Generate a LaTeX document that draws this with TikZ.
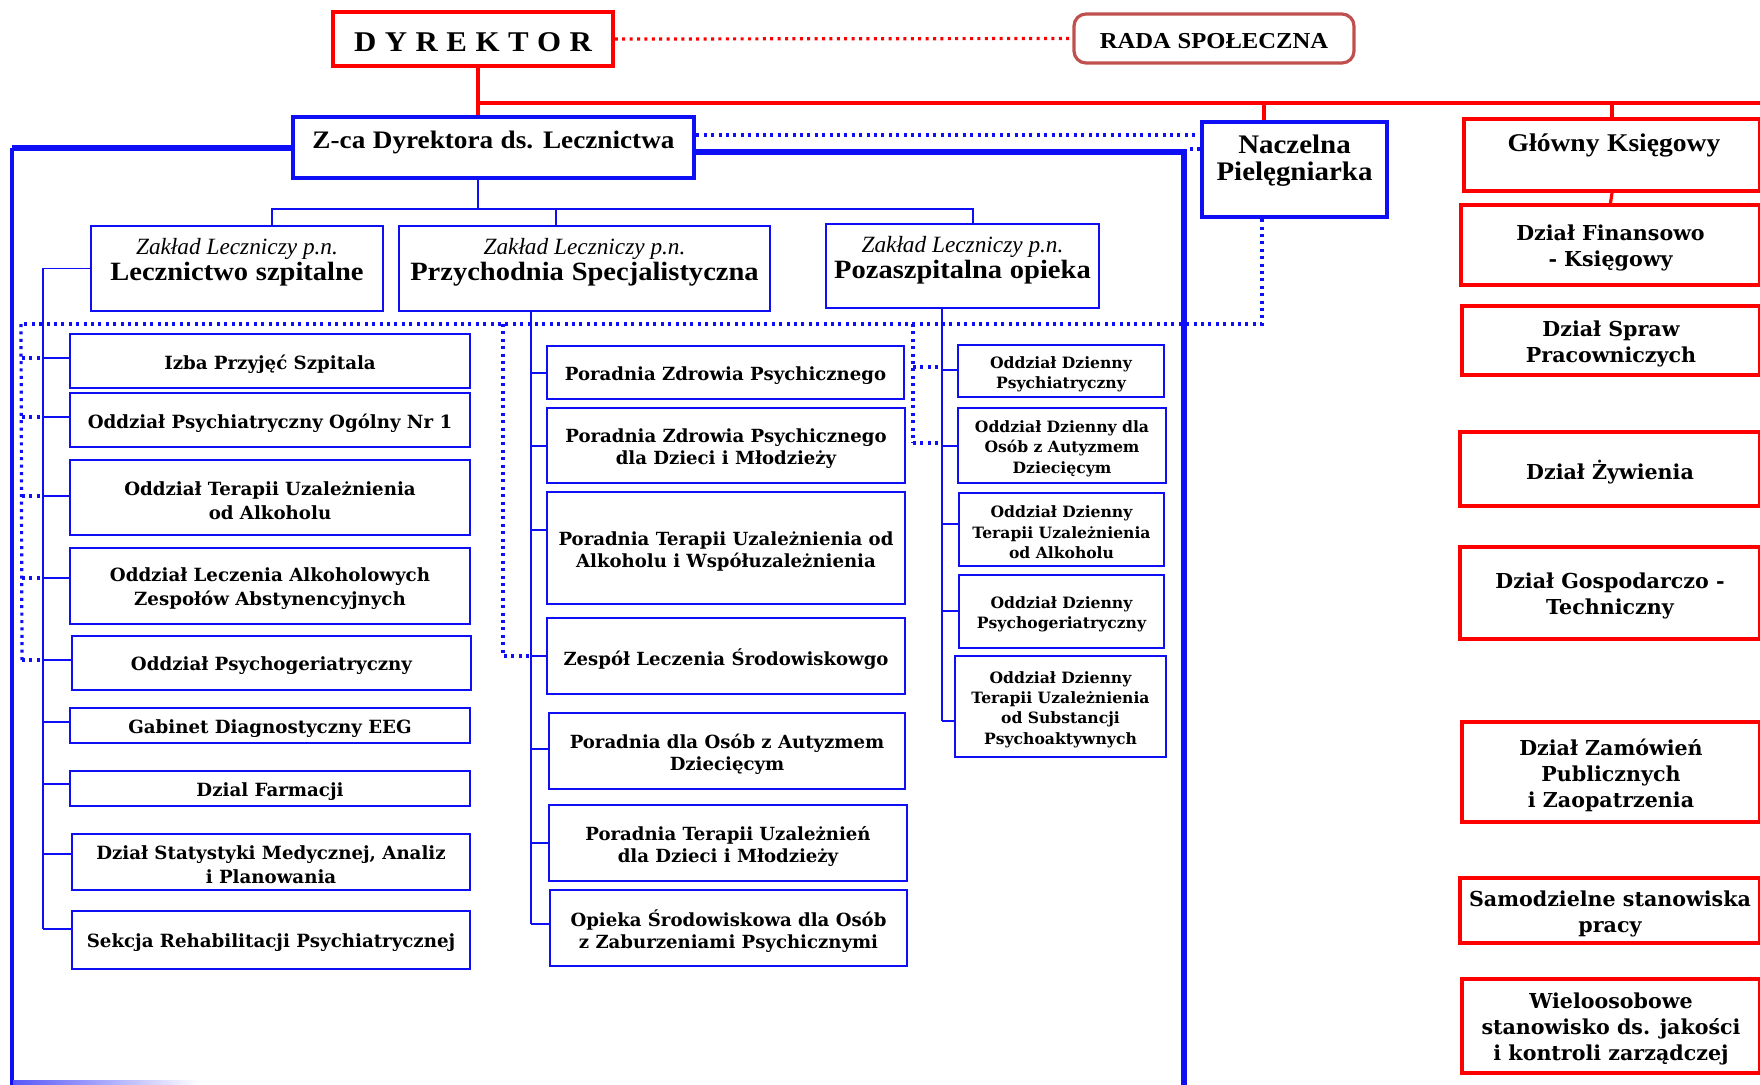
\documentclass[tikz,border=0pt]{standalone}
\usepackage{fontspec}
\setmainfont{DejaVu Serif}
\newfontfamily\hdf[FakeStretch=1.08,WordSpace=1.8]{Liberation Serif}
\newfontfamily\dyrf[FakeStretch=1.08,WordSpace=1.1]{Liberation Serif}
\newfontfamily\itf{Liberation Serif}
\definecolor{bl}{RGB}{15,15,245}
\definecolor{rd}{RGB}{255,0,0}
\definecolor{radac}{RGB}{192,80,77}
% box: name, x1, y1, x2, y2, style, text (text node named <name>t)
\newcommand\bx[7]{%
  \pgfmathsetmacro\bxw{((#4)-(#2))*0.5}%
  \pgfmathsetmacro\bxh{((#5)-(#3))*0.5}%
  \pgfmathsetmacro\bxx{((#2)+(#4))/2}%
  \pgfmathsetmacro\bxy{((#3)+(#5))/2}%
  \node[#6, minimum width=\bxw pt, minimum height=\bxh pt, anchor=center] (#1) at (\bxx,\bxy) {};
  \node[#6, draw=none, anchor=center] (#1t) at ([yshift=-1.5pt]#1.center) {#7};}
\begin{document}
\begin{tikzpicture}[x=0.5pt,y=-0.5pt,
  bb/.style={draw=bl, line width=1pt, inner sep=0pt, align=center, font=\bfseries\fontsize{9.1}{12}\selectfont},
  mb/.style={bb, font=\bfseries\fontsize{9.05}{11}\selectfont},
  ob/.style={bb, font=\bfseries\fontsize{7.8}{10.2}\selectfont},
  zb/.style={draw=bl, line width=1pt, inner sep=0pt},
  rb/.style={draw=rd, line width=2pt, inner sep=0pt, align=center, font=\bfseries\fontsize{10.3}{13}\selectfont},
  conn/.style={draw=bl, line width=0.8pt},
  dotl/.style={draw=bl, line width=1.6pt, dash pattern=on 1.5pt off 2.2pt},
  rdot/.style={dotl, draw=rd},
  rline/.style={draw=rd, line width=1.6pt},
  frame/.style={draw=bl, line width=2.6pt},
  hd/.style={font=\hdf\bfseries\fontsize{13.2}{13}\selectfont, align=center, inner sep=0pt},
]
\useasboundingbox (0,0) rectangle (1760,1084);
\clip (0,0) rectangle (1760,1084);

% ---- top
\bx{dyr}{333}{12}{613}{66}{draw=rd, line width=1.8pt, inner sep=0pt, font=\dyrf\bfseries\fontsize{14.3}{16}\selectfont}{D Y R E K T O R}
\bx{rada}{1074}{14}{1354}{63}{draw=radac, line width=1.6pt, rounded corners=6pt, inner sep=0pt, font=\hdf\bfseries\fontsize{11.4}{13}\selectfont}{RADA SPOŁECZNA}

\bx{zca}{293}{117}{694}{178}{draw=bl, line width=2.3pt, inner sep=0pt}{}
\node[hd, font=\hdf\bfseries\fontsize{12.6}{14}\selectfont] (zcat2) at (493.5,142) {Z-ca Dyrektora ds. Lecznictwa};

\bx{nacz}{1202}{122}{1387}{217}{draw=bl, line width=2.2pt, inner sep=0pt}{}
\node[hd, font=\hdf\bfseries\fontsize{13.4}{13.5}\selectfont] (naczt2) at (1294.5,161) {Naczelna\\Pielęgniarka};

\bx{glow}{1464}{119}{1760}{191}{rb}{}
\node[hd, font=\hdf\bfseries\fontsize{12.75}{13}\selectfont] (glowt2) at (1614,145) {Główny Księgowy};

% ---- second level blue
\bx{lecz}{91}{226}{383}{311}{zb}{}
\node[hd] (leczt2) at (237,262) {{\itf\mdseries\itshape\fontsize{11.65}{13}\selectfont Zakład Leczniczy p.n.}\\Lecznictwo szpitalne};
\bx{przy}{399}{226}{770}{311}{zb}{}
\node[hd] (przyt2) at (584.5,262) {{\itf\mdseries\itshape\fontsize{11.65}{13}\selectfont Zakład Leczniczy p.n.}\\Przychodnia Specjalistyczna};
\bx{poza}{826}{224}{1099}{308}{zb}{}
\node[hd] (pozat2) at (962.5,260) {{\itf\mdseries\itshape\fontsize{11.65}{13}\selectfont Zakład Leczniczy p.n.}\\Pozaszpitalna opieka};

% ---- red right column
\bx{fin}{1461}{205}{1760}{285}{rb}{Dział Finansowo\\- Księgowy}
\bx{spraw}{1462}{306}{1760}{375}{rb}{Dział Spraw\\Pracowniczych}
\bx{zyw}{1460}{432}{1760}{506}{rb}{Dział Żywienia}
\bx{gosp}{1460}{547}{1760}{639}{rb}{Dział Gospodarczo -\\Techniczny}
\bx{zam}{1462}{722}{1760}{822}{rb}{Dział Zamówień\\Publicznych\\i Zaopatrzenia}
\bx{samo}{1460}{878}{1760}{943}{rb}{Samodzielne stanowiska\\pracy}
\bx{wiel}{1462}{979}{1760}{1073}{rb}{Wieloosobowe\\stanowisko ds. jakości\\i kontroli zarządczej}

% ---- left column
\bx{izba}{70}{334}{470}{388}{bb}{Izba Przyjęć Szpitala}
\bx{pog}{70}{393}{470}{447}{bb}{Oddział Psychiatryczny Ogólny Nr 1}
\bx{otu}{70}{460}{470}{535}{bb}{Oddział Terapii Uzależnienia\\od Alkoholu}
\bx{ola}{70}{548}{470}{624}{bb}{Oddział Leczenia Alkoholowych\\Zespołów Abstynencyjnych}
\bx{opg}{72}{636}{471}{690}{bb}{Oddział Psychogeriatryczny}
\bx{eeg}{70}{708}{470}{743}{bb}{Gabinet Diagnostyczny EEG}
\bx{farm}{70}{771}{470}{806}{bb}{Dzial Farmacji}
\bx{stat}{72}{834}{470}{890}{bb}{Dział Statystyki Medycznej, Analiz\\i Planowania}
\bx{sekc}{72}{911}{470}{969}{bb}{Sekcja Rehabilitacji Psychiatrycznej}

% ---- middle column
\bx{pzp}{547}{346}{904}{399}{mb}{Poradnia Zdrowia Psychicznego}
\bx{pzpd}{547}{408}{905}{483}{mb}{Poradnia Zdrowia Psychicznego\\dla Dzieci i Młodzieży}
\bx{ptu}{547}{492}{905}{604}{mb}{Poradnia Terapii Uzależnienia od\\Alkoholu i Współuzależnienia}
\bx{zls}{547}{618}{905}{694}{mb}{Zespół Leczenia Środowiskowgo}
\bx{pau}{549}{713}{905}{789}{mb}{Poradnia dla Osób z Autyzmem\\Dziecięcym}
\bx{ptud}{549}{805}{907}{881}{mb}{Poradnia Terapii Uzależnień\\dla Dzieci i Młodzieży}
\bx{ops}{550}{890}{907}{966}{mb}{Opieka Środowiskowa dla Osób\\z Zaburzeniami Psychicznymi}

% ---- right blue column
\bx{odp}{958}{345}{1164}{397}{ob}{Oddział Dzienny\\Psychiatryczny}
\bx{oda}{958}{408}{1166}{483}{ob}{Oddział Dzienny dla\\Osób z Autyzmem\\Dziecięcym}
\bx{odt}{959}{493}{1164}{566}{ob}{Oddział Dzienny\\Terapii Uzależnienia\\od Alkoholu}
\bx{odg}{959}{575}{1164}{648}{ob}{Oddział Dzienny\\Psychogeriatryczny}
\bx{ods}{955}{656}{1166}{757}{ob}{Oddział Dzienny\\Terapii Uzależnienia\\od Substancji\\Psychoaktywnych}

% ---- red connectors
\coordinate (rbusE) at (1770,103);
\draw[rline] (478,0 |- dyr.south) -- (478,0 |- zca.north);
\draw[rline] (478,103) -- (rbusE);
\draw[rline] (1264,103) -- (1264,0 |- nacz.north);
\draw[rline] (glow.north |- rbusE) -- (glow.north);
\draw[rline] (glow.south) -- (fin.north);
\draw[rdot] (dyr.east) -- (rada.west);

% ---- blue frame
\coordinate (fl) at (12,148); \coordinate (flb) at (12,1090);
\draw[frame] (zca.west |- fl) -- (fl);
\draw[draw=bl, line width=1.6pt] (fl) -- (flb);
\coordinate (fr) at (1184,152); \coordinate (frb) at (1184,1090);
\draw[frame] (zca.east |- fr) -- (fr) -- (frb);
\shade[left color=bl!70, right color=white] (13,1080) rectangle (200,1084);

% ---- dotted links
\draw[dotl] (zca.east |- 0,135) -- (nacz.west |- 0,135);
\draw[dotl] (1190,149) -- (nacz.west |- 0,149);
\coordinate (dh) at (21,324);
\draw[dotl] (1262,0 |- nacz.south) -- (1262,324) -- (dh);
\draw[dotl] (dh) -- (22,660);
\foreach \yy in {358,417,496,578,660} \draw[dotl] (22,\yy) -- (43,\yy);
\draw[dotl] (503,324) -- (503,656) -- (531,656);
\draw[dotl] (913,324) -- (913,443);
\foreach \yy in {367,443} \draw[dotl] (913,\yy) -- (942,\yy);

% ---- blue tree
\coordinate (bbL) at (272,209); \coordinate (bbR) at (973,209);
\draw[conn] (478,0 |- zca.south) -- (478,209);
\draw[conn] (bbL |- lecz.north) -- (bbL) -- (bbR) -- (bbR |- poza.north);
\draw[conn] (556,209) -- (556,0 |- przy.north);

\draw[conn] (lecz.west) -- (43,0 |- lecz.west) -- (43,929);
\foreach \nm/\yy in {izba/358,pog/417,otu/496,ola/578,opg/660,eeg/722,farm/784,stat/854,sekc/929}
  \draw[conn] (43,\yy) -- (\nm.west |- 0,\yy);

\draw[conn] (531,0 |- przy.south) -- (531,924);
\foreach \nm/\yy in {pzp/373,pzpd/446,ptu/530,zls/656,pau/749,ptud/843,ops/924}
  \draw[conn] (531,\yy) -- (\nm.west |- 0,\yy);

\draw[conn] (942,0 |- poza.south) -- (942,721);
\foreach \nm/\yy in {odp/370,oda/446,odt/524,odg/611,ods/721}
  \draw[conn] (942,\yy) -- (\nm.west |- 0,\yy);
\end{tikzpicture}
\end{document}
